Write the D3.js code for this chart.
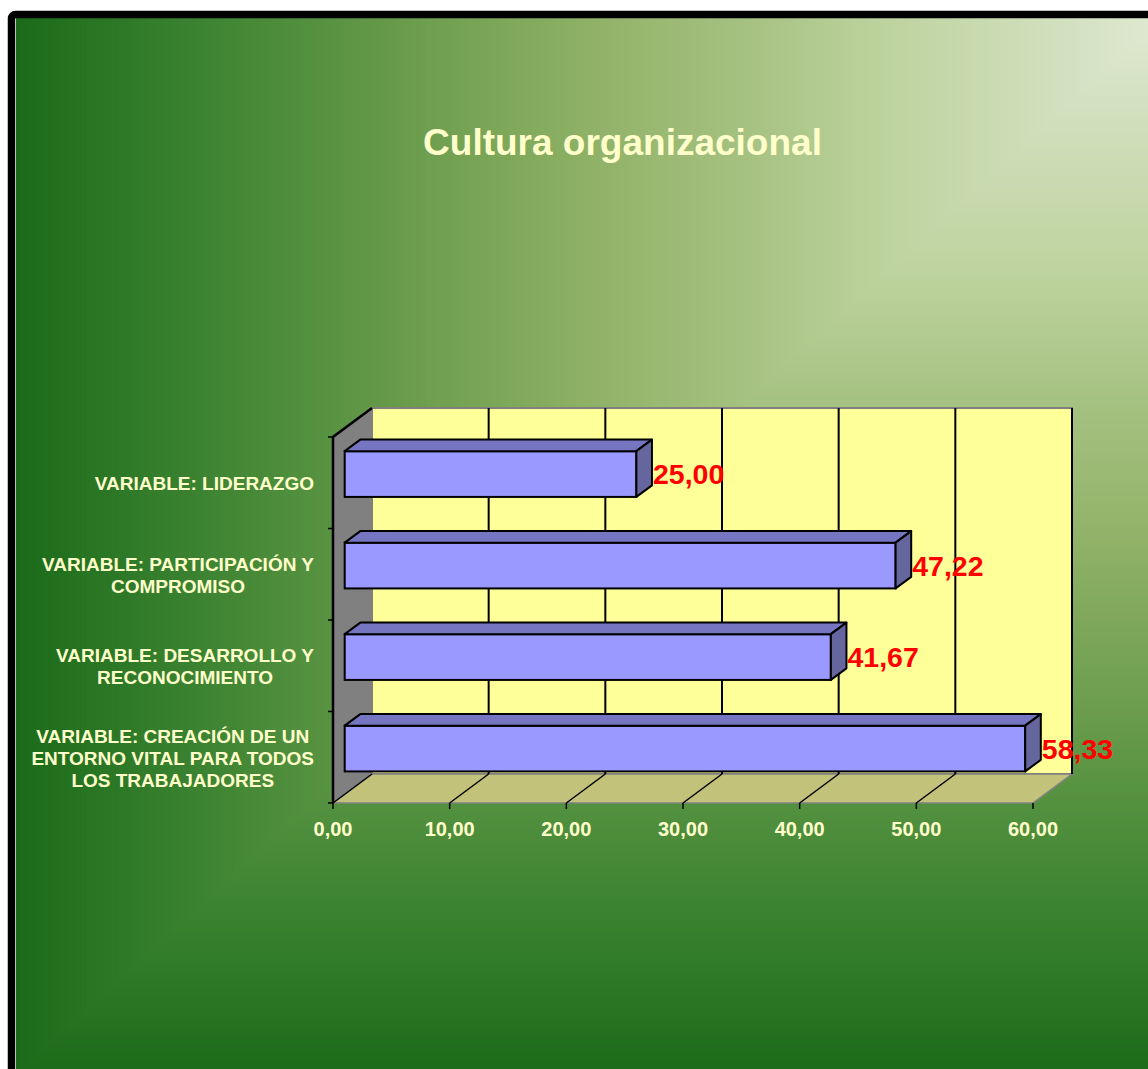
<!DOCTYPE html>
<html>
<head>
<meta charset="utf-8">
<script src="https://cdn.jsdelivr.net/npm/d3@7"></script>
<style>
  html, body { margin: 0; padding: 0; background: #fff; }
  text { font-family: Arial, "Liberation Sans", sans-serif; font-weight: bold; }
</style>
</head>
<body>
<div id="chart-container"></div>
<script>
var categoryLines = [
	["VARIABLE: LIDERAZGO"],
	["VARIABLE: PARTICIPACIÓN Y", "COMPROMISO"],
	["VARIABLE: DESARROLLO Y", "RECONOCIMIENTO"],
	["VARIABLE: CREACIÓN DE UN", "ENTORNO VITAL PARA TODOS", "LOS TRABAJADORES"]
];
var values = [25.00, 47.22, 41.67, 58.33];
var xTicks = [0, 10, 20, 30, 40, 50, 60];
var title = "Cultura organizacional";

var svg_width = 1148;
var svg_height = 1069;

// depth of the 3d box
var depth_x = 39;
var depth_y = 29;
var bar_f0 = 0.3;
var bar_f1 = 0.7;

var fmt = function(v) { return d3.format(".2f")(v).replace(".", ","); };

var svg = d3.select("#chart-container")
	.append("svg")
	.attr("width", svg_width)
	.attr("height", svg_height);

// background: "from corner" gradient, drawn as nested rects
var bg_x0 = 16, bg_x1 = 1160, bg_y0 = 18, bg_y1 = 1075;
var bgColor = d3.scaleLinear()
	.domain([0, 0.1, 0.25, 0.35, 0.47, 0.57, 0.66, 0.75, 0.85, 1])
	.range(["#e0e9d2", "#d0dfbc", "#bcd29c", "#a8c384", "#95b56c", "#7fa85a", "#6a9c4c", "#52903e", "#3a8230", "#1b6b1a"]);
var steps = d3.range(300, 0, -1).map(function(i) { return i / 300; });
svg.append("g").selectAll("rect")
	.data(steps)
	.enter().append("rect")
	.attr("x", function(t) { return bg_x1 - (bg_x1 - bg_x0) * t; })
	.attr("y", bg_y0)
	.attr("width", function(t) { return (bg_x1 - bg_x0) * t + 1; })
	.attr("height", function(t) { return (bg_y1 - bg_y0) * t + 1; })
	.attr("fill", function(t) { return bgColor(t); });

// frame
svg.append("rect")
	.attr("x", 11.5).attr("y", 14.5)
	.attr("width", 1160).attr("height", 1080)
	.attr("rx", 4)
	.attr("fill", "none")
	.attr("stroke", "#000")
	.attr("stroke-width", 7.5);

svg.append("text")
	.attr("x", 622.5)
	.attr("y", 155)
	.attr("text-anchor", "middle")
	.attr("fill", "#ffffcc")
	.style("font-size", "37px")
	.text(title);

var x = d3.scaleLinear()
	.domain([0, 60])
	.range([333, 1033]);

var y = d3.scaleBand()
	.domain(d3.range(values.length))
	.range([437, 803])
	.paddingInner(0.5)
	.paddingOuter(0.25);

var top_y = 437, bottom_y = 803;
var step = y.step();

function pt(px, py, f) { return [px + depth_x * f, py - depth_y * f]; }
function poly(points) { return points.map(function(p) { return p.join(","); }).join(" "); }

// left wall
svg.append("polygon")
	.attr("points", poly([pt(x(0), top_y, 0), pt(x(0), top_y, 1), pt(x(0), bottom_y, 1), pt(x(0), bottom_y, 0)]))
	.attr("fill", "#808080")
	.attr("stroke", "none");

// back wall
svg.append("rect")
	.attr("x", x(0) + depth_x)
	.attr("y", top_y - depth_y)
	.attr("width", x(60) - x(0))
	.attr("height", bottom_y - top_y)
	.attr("fill", "#ffff99")
	.attr("stroke", "#808080")
	.attr("stroke-width", 2);

// floor
svg.append("polygon")
	.attr("points", poly([pt(x(0), bottom_y, 0), pt(x(0), bottom_y, 1), pt(x(60), bottom_y, 1), pt(x(60), bottom_y, 0)]))
	.attr("fill", "#c2c27a")
	.attr("stroke", "#808080")
	.attr("stroke-width", 1.5);

// gridlines on back wall and floor
svg.append("g").selectAll("line")
	.data(xTicks.slice(1))
	.enter().append("line")
	.attr("x1", function(d) { return x(d) + depth_x; })
	.attr("x2", function(d) { return x(d) + depth_x; })
	.attr("y1", top_y - depth_y)
	.attr("y2", bottom_y - depth_y)
	.attr("stroke", "#000")
	.attr("stroke-width", 2);

svg.append("g").selectAll("line")
	.data(xTicks.slice(0, -1))
	.enter().append("line")
	.attr("x1", function(d) { return x(d) + depth_x; })
	.attr("y1", bottom_y - depth_y)
	.attr("x2", function(d) { return x(d); })
	.attr("y2", bottom_y)
	.attr("stroke", "#000")
	.attr("stroke-width", 1.5);

// left wall outline
svg.append("polyline")
	.attr("points", poly([pt(x(0), bottom_y, 0), pt(x(0), top_y, 0), pt(x(0), top_y, 1)]))
	.attr("fill", "none")
	.attr("stroke", "#000")
	.attr("stroke-width", 2.5);

// y ticks
svg.append("g").selectAll("line")
	.data(d3.range(values.length + 1))
	.enter().append("line")
	.attr("x1", x(0) - 5)
	.attr("x2", x(0))
	.attr("y1", function(i) { return top_y + i * step; })
	.attr("y2", function(i) { return top_y + i * step; })
	.attr("stroke", "#000")
	.attr("stroke-width", 1.5);

// x ticks
svg.append("g").selectAll("line")
	.data(xTicks)
	.enter().append("line")
	.attr("x1", function(d) { return x(d); })
	.attr("x2", function(d) { return x(d); })
	.attr("y1", bottom_y)
	.attr("y2", bottom_y + 6)
	.attr("stroke", "#000")
	.attr("stroke-width", 1.5);

svg.append("g").selectAll("text")
	.data(xTicks)
	.enter().append("text")
	.attr("x", function(d) { return x(d); })
	.attr("y", 836)
	.attr("text-anchor", "middle")
	.attr("fill", "#ffffcc")
	.style("font-size", "20px")
	.text(fmt);

// bars
var bars = svg.append("g").selectAll("g")
	.data(values)
	.enter().append("g");

bars.append("rect")
	.attr("x", x(0) + depth_x * bar_f0)
	.attr("y", function(d, i) { return y(i) - depth_y * bar_f0; })
	.attr("width", function(d) { return x(d) - x(0); })
	.attr("height", y.bandwidth())
	.attr("fill", "#9999ff")
	.attr("stroke", "#000")
	.attr("stroke-width", 2);

bars.append("polygon")
	.attr("points", function(d, i) {
		return poly([pt(x(0), y(i), bar_f0), pt(x(0), y(i), bar_f1), pt(x(d), y(i), bar_f1), pt(x(d), y(i), bar_f0)]);
	})
	.attr("fill", "#7575c2")
	.attr("stroke", "#000")
	.attr("stroke-width", 2)
	.attr("stroke-linejoin", "round");

bars.append("polygon")
	.attr("points", function(d, i) {
		var yb = y(i) + y.bandwidth();
		return poly([pt(x(d), y(i), bar_f0), pt(x(d), y(i), bar_f1), pt(x(d), yb, bar_f1), pt(x(d), yb, bar_f0)]);
	})
	.attr("fill", "#66669e")
	.attr("stroke", "#000")
	.attr("stroke-width", 2)
	.attr("stroke-linejoin", "round");

bars.append("text")
	.attr("x", function(d) { return x(d) + depth_x * bar_f1 + 1; })
	.attr("y", function(d, i) { return y(i) + y.bandwidth() / 2 - depth_y * bar_f0; })
	.attr("dy", "0.36em")
	.attr("fill", "#ff0000")
	.style("font-size", "28.5px")
	.text(fmt);

// category labels, lines centred inside a right-aligned block
var label_right = x(0) - 19;
var line_h = 22;
categoryLines.forEach(function(lines, i) {
	var cy = top_y + (i + 0.5) * step;
	var t = svg.append("text")
		.attr("fill", "#ffffcc")
		.attr("text-anchor", "middle")
		.style("font-size", "19px");
	var spans = t.selectAll("tspan")
		.data(lines)
		.enter().append("tspan")
		.attr("y", function(d, j) { return cy + (j - (lines.length - 1) / 2) * line_h; })
		.attr("dy", "0.4em")
		.text(function(d) { return d; });
	var maxw = d3.max(spans.nodes(), function(n) { return n.getComputedTextLength(); });
	spans.attr("x", label_right - maxw / 2);
});
</script>
</body>
</html>
